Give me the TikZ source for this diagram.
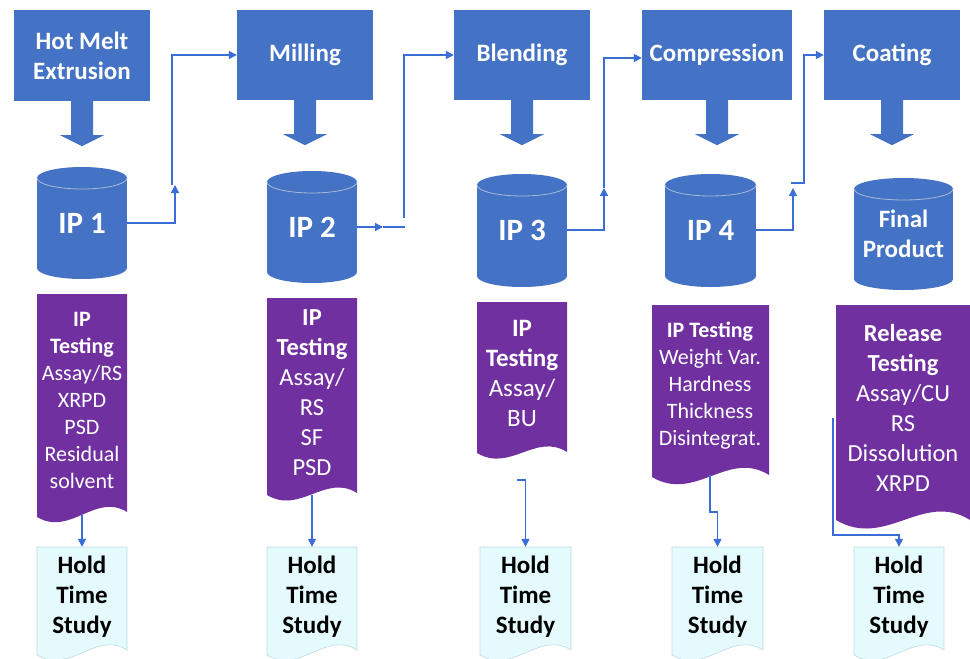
\documentclass[tikz,border=0pt]{standalone}
\usepackage{fontspec}
\setmainfont{Carlito}
\usetikzlibrary{arrows.meta,calc}
\definecolor{bluef}{RGB}{68,114,196}
\definecolor{purplef}{RGB}{112,48,160}
\definecolor{holdf}{RGB}{228,250,252}
\definecolor{holdedge}{RGB}{190,220,232}
\definecolor{connc}{RGB}{58,110,214}
\definecolor{cyledgec}{RGB}{170,185,215}
\newcommand{\wavedoc}[6]{%
  \path[#1] (#2,#3) -- (#4,#3) -- (#4,#5)
    .. controls ({#4-0.35*(#4-#2)},{#5-0.22*(#4-#2)}) and ({#2+0.37*(#4-#2)},{#6+0.22*(#4-#2)}) .. (#2,#6) -- cycle;}
\newcommand{\drawcyl}[5]{%
  \fill[bluef] (#1,{#2+#5}) rectangle (#3,{#4-#5});
  \fill[bluef] ({(#1+#3)/2},{#4-#5}) ellipse [x radius={(#3-#1)/2}, y radius=#5];
  \fill[bluef] ({(#1+#3)/2},{#2+#5}) ellipse [x radius={(#3-#1)/2}, y radius=#5];
  \begin{scope}
    \clip ({#1-2},{#2+#5}) rectangle ({#3+2},{#2+2*#5+2});
    \draw[cyledgec, line width=0.8pt] ({(#1+#3)/2},{#2+#5}) ellipse [x radius={(#3-#1)/2}, y radius=#5];
  \end{scope}}
\begin{document}
\begin{tikzpicture}[x=1pt,y=-1pt,
  topbox/.style={fill=bluef, text=white, font=\fontsize{25}{30}\selectfont\bfseries, align=center, inner sep=0pt},
  cyltext/.style={text=white, font=\fontsize{31}{37}\selectfont\bfseries, align=center, inner sep=0pt},
  doctext/.style={text=white, align=center, inner sep=0pt},
  holdtext/.style={text=black, font=\fontsize{25}{30}\selectfont\bfseries, align=center, inner sep=0pt, minimum height=100pt},
  conn/.style={draw=connc, line width=1.3pt, -{Triangle[length=8pt,width=8pt]}},
  plain/.style={draw=connc, line width=1.3pt}]
\useasboundingbox (0,0) rectangle (970,659);
\fill[white] (0,0) rectangle (970,659);

% process boxes
\node[topbox, minimum width=136pt, minimum height=91pt] (hme) at (82,55.5) {Hot Melt\\Extrusion};
\node[topbox, minimum width=136pt, minimum height=90pt] (mill) at (305,55) {Milling};
\node[topbox, minimum width=136pt, minimum height=90pt] (blend) at (522,55) {Blending};
\node[topbox, minimum width=150pt, minimum height=90pt] (comp) at (717,55) {Compression};
\node[topbox, minimum width=136pt, minimum height=90pt] (coat) at (892,55) {Coating};

% block arrows
\foreach \b in {hme,mill,blend,comp,coat}
  \fill[bluef] (\b.south) ++(-11,0) -- ++(0,34) -- ++(-11,0) -- ++(22,11) -- ++(22,-11) -- ++(-11,0) -- ++(0,-34) -- cycle;

% cylinders
\drawcyl{37}{167}{127}{279}{11}
\drawcyl{267}{171}{357}{283}{11}
\drawcyl{477}{174}{567}{287}{11}
\drawcyl{665}{174}{756}{287}{11}
\drawcyl{854}{178}{953}{290}{11}
\node[cyltext, minimum width=90pt] (ip1) at (82,223) {IP 1};
\node[cyltext, minimum width=90pt] (ip2) at (312,227) {IP 2};
\node[cyltext, minimum width=90pt] (ip3) at (522,230) {IP 3};
\node[cyltext, minimum width=91pt] (ip4) at (710.5,230) {IP 4};
\node[cyltext, minimum width=99pt, font=\fontsize{25}{30}\selectfont\bfseries] (fp) at (903.5,234) {Final\\Product};

% testing documents
\wavedoc{fill=purplef}{37}{294}{127}{512}{517}
\wavedoc{fill=purplef}{267}{298}{357}{493}{495}
\wavedoc{fill=purplef}{477}{302}{567}{452}{453}
\wavedoc{fill=purplef}{652}{305}{769}{475}{477}
\wavedoc{fill=purplef}{836}{305}{970}{520}{520}
\node[doctext, font=\fontsize{22}{27}\selectfont] (t1) at (82,400) {\textbf{IP}\\\textbf{Testing}\\Assay/RS\\XRPD\\PSD\\Residual\\solvent};
\node[doctext, font=\fontsize{24.5}{30}\selectfont] (t2) at (312,393) {\textbf{IP}\\\textbf{Testing}\\Assay/\\RS\\SF\\PSD};
\node[doctext, font=\fontsize{25}{30}\selectfont] (t3) at (522,373) {\textbf{IP}\\\textbf{Testing}\\Assay/\\BU};
\node[doctext, font=\fontsize{22}{27}\selectfont] (t4) at (710,386) {\textbf{IP Testing}\\Weight Var.\\Hardness\\Thickness\\Disintegrat.};
\node[doctext, font=\fontsize{24.5}{30}\selectfont] (t5) at (903,408) {\textbf{Release}\\\textbf{Testing}\\Assay/CU\\RS\\Dissolution\\XRPD};

% hold time study documents
\wavedoc{fill=holdf, draw=holdedge, line width=0.6pt}{37}{547}{127}{650}{655}
\wavedoc{fill=holdf, draw=holdedge, line width=0.6pt}{267}{547}{357}{650}{655}
\wavedoc{fill=holdf, draw=holdedge, line width=0.6pt}{480}{547}{571}{650}{655}
\wavedoc{fill=holdf, draw=holdedge, line width=0.6pt}{672}{547}{763}{650}{655}
\wavedoc{fill=holdf, draw=holdedge, line width=0.6pt}{854}{547}{944}{650}{655}
\node[holdtext] (h1) at (82,597) {Hold\\Time\\Study};
\node[holdtext] (h2) at (312,597) {Hold\\Time\\Study};
\node[holdtext] (h3) at (525.5,597) {Hold\\Time\\Study};
\node[holdtext] (h4) at (717.5,597) {Hold\\Time\\Study};
\node[holdtext] (h5) at (899,597) {Hold\\Time\\Study};

% connectors between stages
\coordinate (c1a) at (175,185);
\coordinate (c1b) at (172,185);
\draw[conn] (ip1.east) -| (c1a);
\draw[conn] (c1b) |- (mill.west);
\coordinate (c2a) at (383,227);
\coordinate (c2b) at (405,227);
\coordinate (c2c) at (404,218);
\draw[conn] (ip2.east) -- (c2a);
\draw[plain] (c2a) -- (c2b);
\draw[conn] (c2c) |- (blend.west);
\coordinate (c3a) at (604,188);
\draw[conn] (ip3.east) -| (c3a);
\draw[conn] (c3a) |- ([yshift=-3pt]comp.west);
\coordinate (c4a) at (793,188);
\coordinate (c4b) at (791,183);
\coordinate (c4c) at (804,183);
\draw[conn] (ip4.east) -| (c4a);
\draw[conn] (c4b) -- (c4c) |- (coat.west);

% connectors to hold time studies
\coordinate (b1) at (82,515);
\draw[conn] (b1) -- (h1.north);
\coordinate (b2) at (312,495);
\draw[conn] (b2) -- (h2.north);
\coordinate (b3) at (517,480);
\draw[conn] (b3) -| (h3.north);
\coordinate (b4) at (710,475);
\coordinate (b4m) at (710,512);
\draw[conn] (b4) -- (b4m) -| (h4.north);
\coordinate (b5) at (833,418);
\coordinate (b5m) at (833,535);
\draw[conn] (b5) -- (b5m) -| (h5.north);
\end{tikzpicture}
\end{document}
